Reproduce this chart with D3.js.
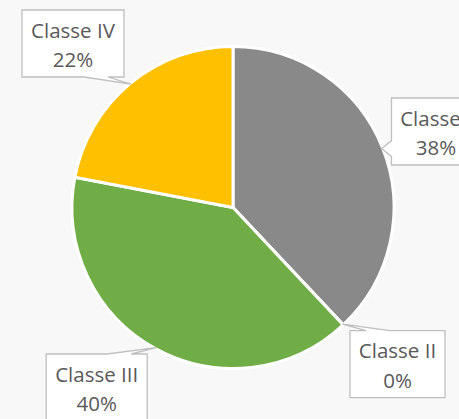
<!DOCTYPE html>
<html>
<head>
<meta charset="utf-8">
<script src="https://cdn.jsdelivr.net/npm/d3@7"></script>
<style>
  html, body { margin: 0; padding: 0; background: #f8f8f8; }
  svg { display: block; }
</style>
</head>
<body>
<svg id="chart" width="459" height="419"></svg>
<script>
// ---- data ----
const categories = ["Classe I", "Classe II", "Classe III", "Classe IV"];
const values = [38, 0, 40, 22];
const percentLabels = ["38%", "0%", "40%", "22%"];
const colors = ["#898989", "#898989", "#70ad47", "#ffc000"];

// ---- layout (label boxes: center x, top y, width, height) ----
const labelBoxes = [
  { cx: 436, top: 98, w: 89, h: 67 },
  { cx: 397.5, top: 330.7, w: 95, h: 67 },
  { cx: 96.7, top: 354, w: 101, h: 67 },
  { cx: 73, top: 10, w: 102, h: 67 }
];

const W = 459, H = 419;
const cx = 233, cy = 207.5, R = 161;

const svg = d3.select("#chart");
svg.append("rect").attr("width", W).attr("height", H).attr("fill", "#f8f8f8");

const pie = d3.pie().sort(null).value(d => d)(values);
const arc = d3.arc().innerRadius(0).outerRadius(R);
const edgeArc = d3.arc().innerRadius(R - 1).outerRadius(R - 1);

const g = svg.append("g").attr("transform", `translate(${cx},${cy})`);
g.selectAll("path.slice")
  .data(pie)
  .join("path")
  .attr("class", "slice")
  .attr("d", arc)
  .attr("fill", (d, i) => colors[i])
  .attr("stroke", "#ffffff")
  .attr("stroke-width", 3)
  .attr("stroke-linejoin", "round");

function calloutPath(b, tip) {
  const x0 = b.cx - b.w / 2, x1 = b.cx + b.w / 2, y0 = b.top, y1 = b.top + b.h;
  const tx = tip[0], ty = tip[1];
  const inset = 16, bw = 24;
  function base(lo, hi, t) {
    if (t >= lo && t <= hi) {
      let a = Math.max(lo + 2, t - 8), c = Math.min(hi - 2, t + 8);
      return [a, c];
    }
    if (t < lo) return [lo + inset, lo + inset + bw];
    return [hi - inset - bw, hi - inset];
  }
  let p = [];
  if (ty < y0) { // top edge
    const [a, c] = base(x0, x1, tx);
    p = [[x0, y0], [a, y0], [tx, ty], [c, y0], [x1, y0], [x1, y1], [x0, y1]];
  } else if (ty > y1) { // bottom edge
    const [a, c] = base(x0, x1, tx);
    p = [[x0, y0], [x1, y0], [x1, y1], [c, y1], [tx, ty], [a, y1], [x0, y1]];
  } else if (tx < x0) { // left edge
    const [a, c] = base(y0, y1, ty);
    p = [[x0, y0], [x1, y0], [x1, y1], [x0, y1], [x0, c], [tx, ty], [x0, a]];
  } else { // right edge
    const [a, c] = base(y0, y1, ty);
    p = [[x0, y0], [x1, y0], [x1, a], [tx, ty], [x1, c], [x1, y1], [x0, y1]];
  }
  return "M" + p.map(q => q.join(",")).join("L") + "Z";
}

const labels = svg.append("g");
pie.forEach((d, i) => {
  const c = edgeArc.centroid(d);
  const tip = [cx + c[0], cy + c[1]];
  const b = labelBoxes[i];
  labels.append("path")
    .attr("d", calloutPath(b, tip))
    .attr("fill", "#ffffff")
    .attr("stroke", "#bfbfbf")
    .attr("stroke-width", 1.3)
    .attr("stroke-linejoin", "miter");
  const t = labels.append("text")
    .attr("text-anchor", "middle")
    .attr("font-family", "'Open Sans', sans-serif")
    .attr("font-size", 20.5)
    .attr("fill", "#595959");
  t.append("tspan").attr("x", b.cx).attr("y", b.top + 27.5).text(categories[i]);
  t.append("tspan").attr("x", b.cx).attr("y", b.top + 57).text(percentLabels[i]);
});
</script>
</body>
</html>
